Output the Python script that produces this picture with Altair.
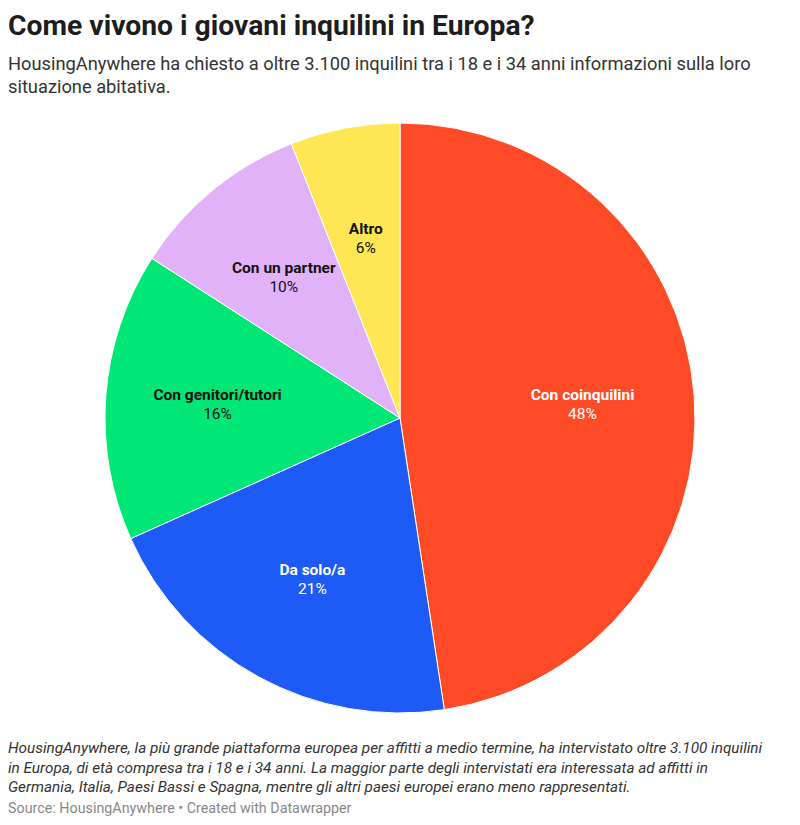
import altair as alt
import pandas as pd

# ---- data ----
categories = ["Con coinquilini", "Da solo/a", "Con genitori/tutori", "Con un partner", "Altro"]
shares = [47.6, 20.7, 15.8, 9.9, 6.0]
pct_labels = ["48%", "21%", "16%", "10%", "6%"]
slice_colors = ["#ff4a28", "#1e5af6", "#00e776", "#e2b2f9", "#fee654"]
label_colors = ["#ffffff", "#ffffff", "#111111", "#111111", "#111111"]

title_text = "Come vivono i giovani inquilini in Europa?"
subtitle_lines = [
    "HousingAnywhere ha chiesto a oltre 3.100 inquilini tra i 18 e i 34 anni informazioni sulla loro",
    "situazione abitativa.",
]
note_lines = [
    "HousingAnywhere, la più grande piattaforma europea per affitti a medio termine, ha intervistato oltre 3.100 inquilini",
    "in Europa, di età compresa tra i 18 e i 34 anni. La maggior parte degli intervistati era interessata ad affitti in",
    "Germania, Italia, Paesi Bassi e Spagna, mentre gli altri paesi europei erano meno rappresentati.",
]
source_text = "Source: HousingAnywhere • Created with Datawrapper"

FONT = "Roboto"
CX, CY, R = 392, 410, 295

df = pd.DataFrame({
    "categoria": categories,
    "quota": shares,
    "ordine": list(range(len(categories))),
    "pct": pct_labels,
})

base = alt.Chart(df).encode(
    theta=alt.Theta("quota:Q", stack=True),
    order=alt.Order("ordine:Q", sort="ascending"),
    x=alt.value(CX),
    y=alt.value(CY),
)

arcs = base.mark_arc(outerRadius=R, stroke="white", strokeWidth=1).encode(
    color=alt.Color("categoria:N", scale=alt.Scale(domain=categories, range=slice_colors), legend=None)
)

text_color = alt.Color("categoria:N", scale=alt.Scale(domain=categories, range=label_colors), legend=None)

names = base.mark_text(radius=183, dy=-9, font=FONT, fontSize=15.5, fontWeight="bold").encode(
    text="categoria:N", color=text_color
)
pcts = base.mark_text(radius=183, dy=10, font=FONT, fontSize=15.5).encode(
    text="pct:N", color=text_color
)

def text_block(lines, y, size, color, weight="normal", style="normal", line_height=20):
    d = pd.DataFrame({"t": ["\n".join(lines)]})
    return alt.Chart(d).mark_text(
        align="left", baseline="alphabetic", font=FONT, fontSize=size, fontWeight=weight,
        fontStyle=style, color=color, lineBreak="\n", lineHeight=line_height,
    ).encode(x=alt.value(0), y=alt.value(y), text="t:N")

title = text_block([title_text], 26.5, 28.3, "#1d1d1d", weight="bold")
subtitle = text_block(subtitle_lines, 62, 18.3, "#333333", line_height=23)
notes = text_block(note_lines, 745, 15.3, "#333333", style="italic", line_height=19.5)
source = text_block([source_text], 805, 14.3, "#888888")

pie = alt.layer(arcs, names, pcts).resolve_scale(color="independent")

chart = alt.layer(pie, title, subtitle, notes, source).properties(
    width=784, height=809, padding=0,
    autosize=alt.AutoSizeParams(type="none"),
).configure_view(stroke=None)

chart.save("out.html", embed_options={"renderer": "svg", "actions": False})
